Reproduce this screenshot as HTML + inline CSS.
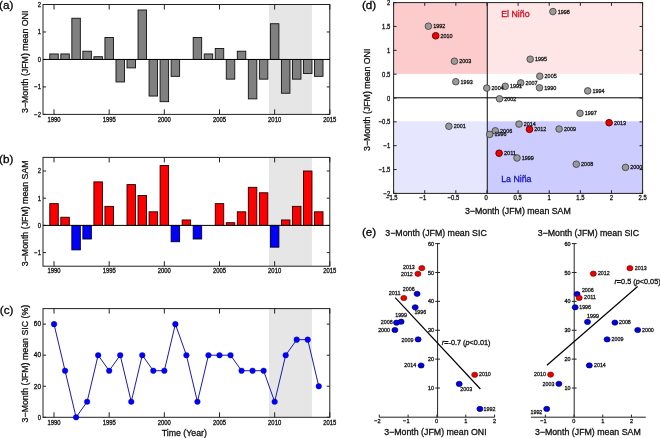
<!DOCTYPE html>
<html><head><meta charset="utf-8"><style>
html,body{margin:0;padding:0;background:#fff;}
svg{display:block;font-family:"Liberation Sans", sans-serif;will-change:transform;}
</style></head><body>
<svg width="660" height="438" viewBox="0 0 660 438">
<rect width="660" height="438" fill="#fff"/>
<rect x="269.00" y="4.50" width="42.90" height="109.90" fill="#e6e6e6" stroke="none" stroke-width="0"/>
<rect x="43.0" y="4.5" width="286.80" height="109.90" fill="none" stroke="#222" stroke-width="1"/>
<line x1="54.03" y1="114.40" x2="54.03" y2="109.40" stroke="#222" stroke-width="1" />
<line x1="54.03" y1="4.50" x2="54.03" y2="9.50" stroke="#222" stroke-width="1" />
<text x="54.03" y="121.70" font-size="6.4" text-anchor="middle" fill="#111" stroke="#111" stroke-width="0.3" textLength="13.09" lengthAdjust="spacingAndGlyphs">1990</text>
<line x1="109.18" y1="114.40" x2="109.18" y2="109.40" stroke="#222" stroke-width="1" />
<line x1="109.18" y1="4.50" x2="109.18" y2="9.50" stroke="#222" stroke-width="1" />
<text x="109.18" y="121.70" font-size="6.4" text-anchor="middle" fill="#111" stroke="#111" stroke-width="0.3" textLength="13.09" lengthAdjust="spacingAndGlyphs">1995</text>
<line x1="164.34" y1="114.40" x2="164.34" y2="109.40" stroke="#222" stroke-width="1" />
<line x1="164.34" y1="4.50" x2="164.34" y2="9.50" stroke="#222" stroke-width="1" />
<text x="164.34" y="121.70" font-size="6.4" text-anchor="middle" fill="#111" stroke="#111" stroke-width="0.3" textLength="13.09" lengthAdjust="spacingAndGlyphs">2000</text>
<line x1="219.49" y1="114.40" x2="219.49" y2="109.40" stroke="#222" stroke-width="1" />
<line x1="219.49" y1="4.50" x2="219.49" y2="9.50" stroke="#222" stroke-width="1" />
<text x="219.49" y="121.70" font-size="6.4" text-anchor="middle" fill="#111" stroke="#111" stroke-width="0.3" textLength="13.09" lengthAdjust="spacingAndGlyphs">2005</text>
<line x1="274.65" y1="114.40" x2="274.65" y2="109.40" stroke="#222" stroke-width="1" />
<line x1="274.65" y1="4.50" x2="274.65" y2="9.50" stroke="#222" stroke-width="1" />
<text x="274.65" y="121.70" font-size="6.4" text-anchor="middle" fill="#111" stroke="#111" stroke-width="0.3" textLength="13.09" lengthAdjust="spacingAndGlyphs">2010</text>
<line x1="329.80" y1="114.40" x2="329.80" y2="109.40" stroke="#222" stroke-width="1" />
<line x1="329.80" y1="4.50" x2="329.80" y2="9.50" stroke="#222" stroke-width="1" />
<text x="329.80" y="121.70" font-size="6.4" text-anchor="middle" fill="#111" stroke="#111" stroke-width="0.3" textLength="13.09" lengthAdjust="spacingAndGlyphs">2015</text>
<line x1="43.00" y1="114.40" x2="46.00" y2="114.40" stroke="#222" stroke-width="1" />
<line x1="329.80" y1="114.40" x2="326.80" y2="114.40" stroke="#222" stroke-width="1" />
<text x="41.00" y="116.70" font-size="6.4" text-anchor="end" fill="#111" stroke="#111" stroke-width="0.3" textLength="6.71" lengthAdjust="spacingAndGlyphs">−2</text>
<line x1="43.00" y1="86.93" x2="46.00" y2="86.93" stroke="#222" stroke-width="1" />
<line x1="329.80" y1="86.93" x2="326.80" y2="86.93" stroke="#222" stroke-width="1" />
<text x="41.00" y="89.23" font-size="6.4" text-anchor="end" fill="#111" stroke="#111" stroke-width="0.3" textLength="6.71" lengthAdjust="spacingAndGlyphs">−1</text>
<line x1="43.00" y1="59.45" x2="46.00" y2="59.45" stroke="#222" stroke-width="1" />
<line x1="329.80" y1="59.45" x2="326.80" y2="59.45" stroke="#222" stroke-width="1" />
<text x="41.00" y="61.75" font-size="6.4" text-anchor="end" fill="#111" stroke="#111" stroke-width="0.3" textLength="3.27" lengthAdjust="spacingAndGlyphs">0</text>
<line x1="43.00" y1="31.97" x2="46.00" y2="31.97" stroke="#222" stroke-width="1" />
<line x1="329.80" y1="31.97" x2="326.80" y2="31.97" stroke="#222" stroke-width="1" />
<text x="41.00" y="34.27" font-size="6.4" text-anchor="end" fill="#111" stroke="#111" stroke-width="0.3" textLength="3.27" lengthAdjust="spacingAndGlyphs">1</text>
<line x1="43.00" y1="4.50" x2="46.00" y2="4.50" stroke="#222" stroke-width="1" />
<line x1="329.80" y1="4.50" x2="326.80" y2="4.50" stroke="#222" stroke-width="1" />
<text x="41.00" y="6.80" font-size="6.4" text-anchor="end" fill="#111" stroke="#111" stroke-width="0.3" textLength="3.27" lengthAdjust="spacingAndGlyphs">2</text>
<text x="0" y="0" font-size="8.8" text-anchor="middle" fill="#111" stroke="#111" stroke-width="0.3" transform="translate(28.2,61.80) rotate(-90)">3−Month (JFM) mean ONI</text>
<rect x="49.78" y="53.95" width="8.5" height="5.50" fill="#808080" stroke="#111" stroke-width="0.9"/>
<rect x="60.81" y="53.95" width="8.5" height="5.50" fill="#808080" stroke="#111" stroke-width="0.9"/>
<rect x="71.84" y="18.24" width="8.5" height="41.21" fill="#808080" stroke="#111" stroke-width="0.9"/>
<rect x="82.87" y="51.21" width="8.5" height="8.24" fill="#808080" stroke="#111" stroke-width="0.9"/>
<rect x="93.90" y="56.70" width="8.5" height="2.75" fill="#808080" stroke="#111" stroke-width="0.9"/>
<rect x="104.93" y="37.47" width="8.5" height="21.98" fill="#808080" stroke="#111" stroke-width="0.9"/>
<rect x="115.97" y="59.45" width="8.5" height="22.53" fill="#808080" stroke="#111" stroke-width="0.9"/>
<rect x="127.00" y="59.45" width="8.5" height="8.45" fill="#808080" stroke="#111" stroke-width="0.9"/>
<rect x="138.03" y="10.00" width="8.5" height="49.45" fill="#808080" stroke="#111" stroke-width="0.9"/>
<rect x="149.06" y="59.45" width="8.5" height="36.61" fill="#808080" stroke="#111" stroke-width="0.9"/>
<rect x="160.09" y="59.45" width="8.5" height="42.24" fill="#808080" stroke="#111" stroke-width="0.9"/>
<rect x="171.12" y="59.45" width="8.5" height="16.90" fill="#808080" stroke="#111" stroke-width="0.9"/>
<rect x="193.18" y="37.47" width="8.5" height="21.98" fill="#808080" stroke="#111" stroke-width="0.9"/>
<rect x="204.21" y="53.95" width="8.5" height="5.50" fill="#808080" stroke="#111" stroke-width="0.9"/>
<rect x="215.24" y="48.46" width="8.5" height="10.99" fill="#808080" stroke="#111" stroke-width="0.9"/>
<rect x="226.27" y="59.45" width="8.5" height="19.71" fill="#808080" stroke="#111" stroke-width="0.9"/>
<rect x="237.30" y="51.21" width="8.5" height="8.24" fill="#808080" stroke="#111" stroke-width="0.9"/>
<rect x="248.33" y="59.45" width="8.5" height="39.43" fill="#808080" stroke="#111" stroke-width="0.9"/>
<rect x="259.37" y="59.45" width="8.5" height="19.71" fill="#808080" stroke="#111" stroke-width="0.9"/>
<rect x="270.40" y="23.73" width="8.5" height="35.72" fill="#808080" stroke="#111" stroke-width="0.9"/>
<rect x="281.43" y="59.45" width="8.5" height="33.79" fill="#808080" stroke="#111" stroke-width="0.9"/>
<rect x="292.46" y="59.45" width="8.5" height="19.71" fill="#808080" stroke="#111" stroke-width="0.9"/>
<rect x="303.49" y="59.45" width="8.5" height="14.08" fill="#808080" stroke="#111" stroke-width="0.9"/>
<rect x="314.52" y="59.45" width="8.5" height="16.90" fill="#808080" stroke="#111" stroke-width="0.9"/>
<line x1="43.00" y1="59.45" x2="329.80" y2="59.45" stroke="#000" stroke-width="1" />
<text x="-1.00" y="8.60" font-size="11.7" text-anchor="start" fill="#000" stroke="#000" stroke-width="0.3" >(a)</text>
<rect x="269.00" y="157.40" width="42.90" height="108.80" fill="#e6e6e6" stroke="none" stroke-width="0"/>
<rect x="43.0" y="157.4" width="286.80" height="108.80" fill="none" stroke="#222" stroke-width="1"/>
<line x1="54.03" y1="266.20" x2="54.03" y2="261.20" stroke="#222" stroke-width="1" />
<line x1="54.03" y1="157.40" x2="54.03" y2="162.40" stroke="#222" stroke-width="1" />
<text x="54.03" y="273.30" font-size="6.4" text-anchor="middle" fill="#111" stroke="#111" stroke-width="0.3" textLength="13.09" lengthAdjust="spacingAndGlyphs">1990</text>
<line x1="109.18" y1="266.20" x2="109.18" y2="261.20" stroke="#222" stroke-width="1" />
<line x1="109.18" y1="157.40" x2="109.18" y2="162.40" stroke="#222" stroke-width="1" />
<text x="109.18" y="273.30" font-size="6.4" text-anchor="middle" fill="#111" stroke="#111" stroke-width="0.3" textLength="13.09" lengthAdjust="spacingAndGlyphs">1995</text>
<line x1="164.34" y1="266.20" x2="164.34" y2="261.20" stroke="#222" stroke-width="1" />
<line x1="164.34" y1="157.40" x2="164.34" y2="162.40" stroke="#222" stroke-width="1" />
<text x="164.34" y="273.30" font-size="6.4" text-anchor="middle" fill="#111" stroke="#111" stroke-width="0.3" textLength="13.09" lengthAdjust="spacingAndGlyphs">2000</text>
<line x1="219.49" y1="266.20" x2="219.49" y2="261.20" stroke="#222" stroke-width="1" />
<line x1="219.49" y1="157.40" x2="219.49" y2="162.40" stroke="#222" stroke-width="1" />
<text x="219.49" y="273.30" font-size="6.4" text-anchor="middle" fill="#111" stroke="#111" stroke-width="0.3" textLength="13.09" lengthAdjust="spacingAndGlyphs">2005</text>
<line x1="274.65" y1="266.20" x2="274.65" y2="261.20" stroke="#222" stroke-width="1" />
<line x1="274.65" y1="157.40" x2="274.65" y2="162.40" stroke="#222" stroke-width="1" />
<text x="274.65" y="273.30" font-size="6.4" text-anchor="middle" fill="#111" stroke="#111" stroke-width="0.3" textLength="13.09" lengthAdjust="spacingAndGlyphs">2010</text>
<line x1="329.80" y1="266.20" x2="329.80" y2="261.20" stroke="#222" stroke-width="1" />
<line x1="329.80" y1="157.40" x2="329.80" y2="162.40" stroke="#222" stroke-width="1" />
<text x="329.80" y="273.30" font-size="6.4" text-anchor="middle" fill="#111" stroke="#111" stroke-width="0.3" textLength="13.09" lengthAdjust="spacingAndGlyphs">2015</text>
<line x1="43.00" y1="252.60" x2="46.00" y2="252.60" stroke="#222" stroke-width="1" />
<line x1="329.80" y1="252.60" x2="326.80" y2="252.60" stroke="#222" stroke-width="1" />
<text x="41.00" y="254.90" font-size="6.4" text-anchor="end" fill="#111" stroke="#111" stroke-width="0.3" textLength="6.71" lengthAdjust="spacingAndGlyphs">−1</text>
<line x1="43.00" y1="225.40" x2="46.00" y2="225.40" stroke="#222" stroke-width="1" />
<line x1="329.80" y1="225.40" x2="326.80" y2="225.40" stroke="#222" stroke-width="1" />
<text x="41.00" y="227.70" font-size="6.4" text-anchor="end" fill="#111" stroke="#111" stroke-width="0.3" textLength="3.27" lengthAdjust="spacingAndGlyphs">0</text>
<line x1="43.00" y1="198.20" x2="46.00" y2="198.20" stroke="#222" stroke-width="1" />
<line x1="329.80" y1="198.20" x2="326.80" y2="198.20" stroke="#222" stroke-width="1" />
<text x="41.00" y="200.50" font-size="6.4" text-anchor="end" fill="#111" stroke="#111" stroke-width="0.3" textLength="3.27" lengthAdjust="spacingAndGlyphs">1</text>
<line x1="43.00" y1="171.00" x2="46.00" y2="171.00" stroke="#222" stroke-width="1" />
<line x1="329.80" y1="171.00" x2="326.80" y2="171.00" stroke="#222" stroke-width="1" />
<text x="41.00" y="173.30" font-size="6.4" text-anchor="end" fill="#111" stroke="#111" stroke-width="0.3" textLength="3.27" lengthAdjust="spacingAndGlyphs">2</text>
<text x="0" y="0" font-size="8.8" text-anchor="middle" fill="#111" stroke="#111" stroke-width="0.3" transform="translate(28.2,213.30) rotate(-90)">3−Month (JFM) mean SAM</text>
<rect x="49.78" y="203.64" width="8.5" height="21.76" fill="#ff0000" stroke="#200" stroke-width="0.9"/>
<rect x="60.81" y="217.24" width="8.5" height="8.16" fill="#ff0000" stroke="#200" stroke-width="0.9"/>
<rect x="71.84" y="225.40" width="8.5" height="24.48" fill="#0000ff" stroke="#002" stroke-width="0.9"/>
<rect x="82.87" y="225.40" width="8.5" height="13.60" fill="#0000ff" stroke="#002" stroke-width="0.9"/>
<rect x="93.90" y="181.88" width="8.5" height="43.52" fill="#ff0000" stroke="#200" stroke-width="0.9"/>
<rect x="104.93" y="206.36" width="8.5" height="19.04" fill="#ff0000" stroke="#200" stroke-width="0.9"/>
<rect x="127.00" y="184.60" width="8.5" height="40.80" fill="#ff0000" stroke="#200" stroke-width="0.9"/>
<rect x="138.03" y="195.48" width="8.5" height="29.92" fill="#ff0000" stroke="#200" stroke-width="0.9"/>
<rect x="149.06" y="211.80" width="8.5" height="13.60" fill="#ff0000" stroke="#200" stroke-width="0.9"/>
<rect x="160.09" y="165.56" width="8.5" height="59.84" fill="#ff0000" stroke="#200" stroke-width="0.9"/>
<rect x="171.12" y="225.40" width="8.5" height="16.32" fill="#0000ff" stroke="#002" stroke-width="0.9"/>
<rect x="182.15" y="219.96" width="8.5" height="5.44" fill="#ff0000" stroke="#200" stroke-width="0.9"/>
<rect x="193.18" y="225.40" width="8.5" height="13.60" fill="#0000ff" stroke="#002" stroke-width="0.9"/>
<rect x="215.24" y="203.64" width="8.5" height="21.76" fill="#ff0000" stroke="#200" stroke-width="0.9"/>
<rect x="226.27" y="222.68" width="8.5" height="2.72" fill="#ff0000" stroke="#200" stroke-width="0.9"/>
<rect x="237.30" y="211.80" width="8.5" height="13.60" fill="#ff0000" stroke="#200" stroke-width="0.9"/>
<rect x="248.33" y="187.32" width="8.5" height="38.08" fill="#ff0000" stroke="#200" stroke-width="0.9"/>
<rect x="259.37" y="192.76" width="8.5" height="32.64" fill="#ff0000" stroke="#200" stroke-width="0.9"/>
<rect x="270.40" y="225.40" width="8.5" height="21.76" fill="#0000ff" stroke="#002" stroke-width="0.9"/>
<rect x="281.43" y="219.96" width="8.5" height="5.44" fill="#ff0000" stroke="#200" stroke-width="0.9"/>
<rect x="292.46" y="206.36" width="8.5" height="19.04" fill="#ff0000" stroke="#200" stroke-width="0.9"/>
<rect x="303.49" y="171.00" width="8.5" height="54.40" fill="#ff0000" stroke="#200" stroke-width="0.9"/>
<rect x="314.52" y="211.80" width="8.5" height="13.60" fill="#ff0000" stroke="#200" stroke-width="0.9"/>
<line x1="43.00" y1="225.40" x2="329.80" y2="225.40" stroke="#000" stroke-width="1" />
<text x="-1.00" y="162.70" font-size="11.7" text-anchor="start" fill="#000" stroke="#000" stroke-width="0.3" >(b)</text>
<rect x="269.00" y="308.60" width="42.90" height="108.70" fill="#e6e6e6" stroke="none" stroke-width="0"/>
<rect x="43.0" y="308.6" width="286.80" height="108.70" fill="none" stroke="#222" stroke-width="1"/>
<line x1="54.03" y1="417.30" x2="54.03" y2="412.30" stroke="#222" stroke-width="1" />
<line x1="54.03" y1="308.60" x2="54.03" y2="313.60" stroke="#222" stroke-width="1" />
<text x="54.03" y="424.80" font-size="6.4" text-anchor="middle" fill="#111" stroke="#111" stroke-width="0.3" textLength="13.09" lengthAdjust="spacingAndGlyphs">1990</text>
<line x1="109.18" y1="417.30" x2="109.18" y2="412.30" stroke="#222" stroke-width="1" />
<line x1="109.18" y1="308.60" x2="109.18" y2="313.60" stroke="#222" stroke-width="1" />
<text x="109.18" y="424.80" font-size="6.4" text-anchor="middle" fill="#111" stroke="#111" stroke-width="0.3" textLength="13.09" lengthAdjust="spacingAndGlyphs">1995</text>
<line x1="164.34" y1="417.30" x2="164.34" y2="412.30" stroke="#222" stroke-width="1" />
<line x1="164.34" y1="308.60" x2="164.34" y2="313.60" stroke="#222" stroke-width="1" />
<text x="164.34" y="424.80" font-size="6.4" text-anchor="middle" fill="#111" stroke="#111" stroke-width="0.3" textLength="13.09" lengthAdjust="spacingAndGlyphs">2000</text>
<line x1="219.49" y1="417.30" x2="219.49" y2="412.30" stroke="#222" stroke-width="1" />
<line x1="219.49" y1="308.60" x2="219.49" y2="313.60" stroke="#222" stroke-width="1" />
<text x="219.49" y="424.80" font-size="6.4" text-anchor="middle" fill="#111" stroke="#111" stroke-width="0.3" textLength="13.09" lengthAdjust="spacingAndGlyphs">2005</text>
<line x1="274.65" y1="417.30" x2="274.65" y2="412.30" stroke="#222" stroke-width="1" />
<line x1="274.65" y1="308.60" x2="274.65" y2="313.60" stroke="#222" stroke-width="1" />
<text x="274.65" y="424.80" font-size="6.4" text-anchor="middle" fill="#111" stroke="#111" stroke-width="0.3" textLength="13.09" lengthAdjust="spacingAndGlyphs">2010</text>
<line x1="329.80" y1="417.30" x2="329.80" y2="412.30" stroke="#222" stroke-width="1" />
<line x1="329.80" y1="308.60" x2="329.80" y2="313.60" stroke="#222" stroke-width="1" />
<text x="329.80" y="424.80" font-size="6.4" text-anchor="middle" fill="#111" stroke="#111" stroke-width="0.3" textLength="13.09" lengthAdjust="spacingAndGlyphs">2015</text>
<line x1="43.00" y1="417.30" x2="46.00" y2="417.30" stroke="#222" stroke-width="1" />
<line x1="329.80" y1="417.30" x2="326.80" y2="417.30" stroke="#222" stroke-width="1" />
<text x="41.00" y="419.60" font-size="6.4" text-anchor="end" fill="#111" stroke="#111" stroke-width="0.3" textLength="3.27" lengthAdjust="spacingAndGlyphs">0</text>
<line x1="43.00" y1="386.24" x2="46.00" y2="386.24" stroke="#222" stroke-width="1" />
<line x1="329.80" y1="386.24" x2="326.80" y2="386.24" stroke="#222" stroke-width="1" />
<text x="41.00" y="388.54" font-size="6.4" text-anchor="end" fill="#111" stroke="#111" stroke-width="0.3" textLength="7.12" lengthAdjust="spacingAndGlyphs">20</text>
<line x1="43.00" y1="355.19" x2="46.00" y2="355.19" stroke="#222" stroke-width="1" />
<line x1="329.80" y1="355.19" x2="326.80" y2="355.19" stroke="#222" stroke-width="1" />
<text x="41.00" y="357.49" font-size="6.4" text-anchor="end" fill="#111" stroke="#111" stroke-width="0.3" textLength="7.12" lengthAdjust="spacingAndGlyphs">40</text>
<line x1="43.00" y1="324.13" x2="46.00" y2="324.13" stroke="#222" stroke-width="1" />
<line x1="329.80" y1="324.13" x2="326.80" y2="324.13" stroke="#222" stroke-width="1" />
<text x="41.00" y="326.43" font-size="6.4" text-anchor="end" fill="#111" stroke="#111" stroke-width="0.3" textLength="7.12" lengthAdjust="spacingAndGlyphs">60</text>
<text x="0" y="0" font-size="8.8" text-anchor="middle" fill="#111" stroke="#111" stroke-width="0.3" transform="translate(28.2,363.60) rotate(-90)">3−Month (JFM) mean SIC (%)</text>
<polyline points="54.03,324.13 65.06,370.71 76.09,417.30 87.12,401.77 98.15,355.19 109.18,370.71 120.22,355.19 131.25,401.77 142.28,355.19 153.31,370.71 164.34,370.71 175.37,324.13 186.40,355.19 197.43,401.77 208.46,355.19 219.49,355.19 230.52,355.19 241.55,370.71 252.58,370.71 263.62,370.71 274.65,401.77 285.68,355.19 296.71,339.66 307.74,339.66 318.77,386.24" fill="none" stroke="#1a1ab0" stroke-width="1"/>
<circle cx="54.03" cy="324.13" r="2.8" fill="#0000ff" stroke="#0000b0" stroke-width="0.4"/>
<circle cx="65.06" cy="370.71" r="2.8" fill="#0000ff" stroke="#0000b0" stroke-width="0.4"/>
<circle cx="76.09" cy="417.30" r="2.8" fill="#0000ff" stroke="#0000b0" stroke-width="0.4"/>
<circle cx="87.12" cy="401.77" r="2.8" fill="#0000ff" stroke="#0000b0" stroke-width="0.4"/>
<circle cx="98.15" cy="355.19" r="2.8" fill="#0000ff" stroke="#0000b0" stroke-width="0.4"/>
<circle cx="109.18" cy="370.71" r="2.8" fill="#0000ff" stroke="#0000b0" stroke-width="0.4"/>
<circle cx="120.22" cy="355.19" r="2.8" fill="#0000ff" stroke="#0000b0" stroke-width="0.4"/>
<circle cx="131.25" cy="401.77" r="2.8" fill="#0000ff" stroke="#0000b0" stroke-width="0.4"/>
<circle cx="142.28" cy="355.19" r="2.8" fill="#0000ff" stroke="#0000b0" stroke-width="0.4"/>
<circle cx="153.31" cy="370.71" r="2.8" fill="#0000ff" stroke="#0000b0" stroke-width="0.4"/>
<circle cx="164.34" cy="370.71" r="2.8" fill="#0000ff" stroke="#0000b0" stroke-width="0.4"/>
<circle cx="175.37" cy="324.13" r="2.8" fill="#0000ff" stroke="#0000b0" stroke-width="0.4"/>
<circle cx="186.40" cy="355.19" r="2.8" fill="#0000ff" stroke="#0000b0" stroke-width="0.4"/>
<circle cx="197.43" cy="401.77" r="2.8" fill="#0000ff" stroke="#0000b0" stroke-width="0.4"/>
<circle cx="208.46" cy="355.19" r="2.8" fill="#0000ff" stroke="#0000b0" stroke-width="0.4"/>
<circle cx="219.49" cy="355.19" r="2.8" fill="#0000ff" stroke="#0000b0" stroke-width="0.4"/>
<circle cx="230.52" cy="355.19" r="2.8" fill="#0000ff" stroke="#0000b0" stroke-width="0.4"/>
<circle cx="241.55" cy="370.71" r="2.8" fill="#0000ff" stroke="#0000b0" stroke-width="0.4"/>
<circle cx="252.58" cy="370.71" r="2.8" fill="#0000ff" stroke="#0000b0" stroke-width="0.4"/>
<circle cx="263.62" cy="370.71" r="2.8" fill="#0000ff" stroke="#0000b0" stroke-width="0.4"/>
<circle cx="274.65" cy="401.77" r="2.8" fill="#0000ff" stroke="#0000b0" stroke-width="0.4"/>
<circle cx="285.68" cy="355.19" r="2.8" fill="#0000ff" stroke="#0000b0" stroke-width="0.4"/>
<circle cx="296.71" cy="339.66" r="2.8" fill="#0000ff" stroke="#0000b0" stroke-width="0.4"/>
<circle cx="307.74" cy="339.66" r="2.8" fill="#0000ff" stroke="#0000b0" stroke-width="0.4"/>
<circle cx="318.77" cy="386.24" r="2.8" fill="#0000ff" stroke="#0000b0" stroke-width="0.4"/>
<text x="-0.20" y="313.80" font-size="11.7" text-anchor="start" fill="#000" stroke="#000" stroke-width="0.3" >(c)</text>
<text x="184.30" y="436.30" font-size="8.8" text-anchor="middle" fill="#111" stroke="#111" stroke-width="0.3" >Time (Year)</text>
<rect x="393.60" y="2.60" width="93.70" height="71.30" fill="#fccccc" stroke="none" stroke-width="0"/>
<rect x="487.30" y="2.60" width="155.30" height="71.30" fill="#ffe6e6" stroke="none" stroke-width="0"/>
<rect x="393.60" y="121.30" width="93.70" height="72.10" fill="#e6e6ff" stroke="none" stroke-width="0"/>
<rect x="487.30" y="121.30" width="155.30" height="72.10" fill="#ccccff" stroke="none" stroke-width="0"/>
<line x1="487.30" y1="2.60" x2="487.30" y2="193.40" stroke="#222" stroke-width="1.1" />
<line x1="393.60" y1="97.80" x2="642.60" y2="97.80" stroke="#000" stroke-width="1" />
<rect x="393.6" y="2.6" width="249.00" height="190.80" fill="none" stroke="#222" stroke-width="1"/>
<line x1="393.60" y1="193.40" x2="393.60" y2="190.20" stroke="#222" stroke-width="1" />
<line x1="393.60" y1="2.60" x2="393.60" y2="5.80" stroke="#222" stroke-width="1" />
<text x="391.80" y="200.20" font-size="6.4" text-anchor="middle" fill="#111" stroke="#111" stroke-width="0.3" textLength="11.62" lengthAdjust="spacingAndGlyphs">−1.5</text>
<line x1="424.73" y1="193.40" x2="424.73" y2="190.20" stroke="#222" stroke-width="1" />
<line x1="424.73" y1="2.60" x2="424.73" y2="5.80" stroke="#222" stroke-width="1" />
<text x="422.93" y="200.20" font-size="6.4" text-anchor="middle" fill="#111" stroke="#111" stroke-width="0.3" textLength="6.71" lengthAdjust="spacingAndGlyphs">−1</text>
<line x1="455.85" y1="193.40" x2="455.85" y2="190.20" stroke="#222" stroke-width="1" />
<line x1="455.85" y1="2.60" x2="455.85" y2="5.80" stroke="#222" stroke-width="1" />
<text x="453.45" y="200.20" font-size="6.4" text-anchor="middle" fill="#111" stroke="#111" stroke-width="0.3" textLength="11.62" lengthAdjust="spacingAndGlyphs">−0.5</text>
<line x1="486.98" y1="193.40" x2="486.98" y2="190.20" stroke="#222" stroke-width="1" />
<line x1="486.98" y1="2.60" x2="486.98" y2="5.80" stroke="#222" stroke-width="1" />
<text x="486.18" y="200.20" font-size="6.4" text-anchor="middle" fill="#111" stroke="#111" stroke-width="0.3" textLength="3.27" lengthAdjust="spacingAndGlyphs">0</text>
<line x1="518.10" y1="193.40" x2="518.10" y2="190.20" stroke="#222" stroke-width="1" />
<line x1="518.10" y1="2.60" x2="518.10" y2="5.80" stroke="#222" stroke-width="1" />
<text x="517.60" y="200.20" font-size="6.4" text-anchor="middle" fill="#111" stroke="#111" stroke-width="0.3" textLength="8.18" lengthAdjust="spacingAndGlyphs">0.5</text>
<line x1="549.23" y1="193.40" x2="549.23" y2="190.20" stroke="#222" stroke-width="1" />
<line x1="549.23" y1="2.60" x2="549.23" y2="5.80" stroke="#222" stroke-width="1" />
<text x="549.23" y="200.20" font-size="6.4" text-anchor="middle" fill="#111" stroke="#111" stroke-width="0.3" textLength="3.27" lengthAdjust="spacingAndGlyphs">1</text>
<line x1="580.35" y1="193.40" x2="580.35" y2="190.20" stroke="#222" stroke-width="1" />
<line x1="580.35" y1="2.60" x2="580.35" y2="5.80" stroke="#222" stroke-width="1" />
<text x="580.35" y="200.20" font-size="6.4" text-anchor="middle" fill="#111" stroke="#111" stroke-width="0.3" textLength="8.18" lengthAdjust="spacingAndGlyphs">1.5</text>
<line x1="611.48" y1="193.40" x2="611.48" y2="190.20" stroke="#222" stroke-width="1" />
<line x1="611.48" y1="2.60" x2="611.48" y2="5.80" stroke="#222" stroke-width="1" />
<text x="611.48" y="200.20" font-size="6.4" text-anchor="middle" fill="#111" stroke="#111" stroke-width="0.3" textLength="3.27" lengthAdjust="spacingAndGlyphs">2</text>
<line x1="642.60" y1="193.40" x2="642.60" y2="190.20" stroke="#222" stroke-width="1" />
<line x1="642.60" y1="2.60" x2="642.60" y2="5.80" stroke="#222" stroke-width="1" />
<text x="642.60" y="200.20" font-size="6.4" text-anchor="middle" fill="#111" stroke="#111" stroke-width="0.3" textLength="8.18" lengthAdjust="spacingAndGlyphs">2.5</text>
<line x1="393.60" y1="193.40" x2="396.60" y2="193.40" stroke="#222" stroke-width="1" />
<line x1="642.60" y1="193.40" x2="639.60" y2="193.40" stroke="#222" stroke-width="1" />
<text x="390.30" y="195.90" font-size="6.4" text-anchor="end" fill="#111" stroke="#111" stroke-width="0.3" textLength="6.71" lengthAdjust="spacingAndGlyphs">−2</text>
<line x1="393.60" y1="169.55" x2="396.60" y2="169.55" stroke="#222" stroke-width="1" />
<line x1="642.60" y1="169.55" x2="639.60" y2="169.55" stroke="#222" stroke-width="1" />
<text x="390.30" y="172.05" font-size="6.4" text-anchor="end" fill="#111" stroke="#111" stroke-width="0.3" textLength="11.62" lengthAdjust="spacingAndGlyphs">−1.5</text>
<line x1="393.60" y1="145.70" x2="396.60" y2="145.70" stroke="#222" stroke-width="1" />
<line x1="642.60" y1="145.70" x2="639.60" y2="145.70" stroke="#222" stroke-width="1" />
<text x="390.30" y="148.20" font-size="6.4" text-anchor="end" fill="#111" stroke="#111" stroke-width="0.3" textLength="6.71" lengthAdjust="spacingAndGlyphs">−1</text>
<line x1="393.60" y1="121.85" x2="396.60" y2="121.85" stroke="#222" stroke-width="1" />
<line x1="642.60" y1="121.85" x2="639.60" y2="121.85" stroke="#222" stroke-width="1" />
<text x="390.30" y="124.35" font-size="6.4" text-anchor="end" fill="#111" stroke="#111" stroke-width="0.3" textLength="11.62" lengthAdjust="spacingAndGlyphs">−0.5</text>
<line x1="393.60" y1="98.00" x2="396.60" y2="98.00" stroke="#222" stroke-width="1" />
<line x1="642.60" y1="98.00" x2="639.60" y2="98.00" stroke="#222" stroke-width="1" />
<text x="390.30" y="100.50" font-size="6.4" text-anchor="end" fill="#111" stroke="#111" stroke-width="0.3" textLength="3.27" lengthAdjust="spacingAndGlyphs">0</text>
<line x1="393.60" y1="74.15" x2="396.60" y2="74.15" stroke="#222" stroke-width="1" />
<line x1="642.60" y1="74.15" x2="639.60" y2="74.15" stroke="#222" stroke-width="1" />
<text x="390.30" y="76.65" font-size="6.4" text-anchor="end" fill="#111" stroke="#111" stroke-width="0.3" textLength="8.18" lengthAdjust="spacingAndGlyphs">0.5</text>
<line x1="393.60" y1="50.30" x2="396.60" y2="50.30" stroke="#222" stroke-width="1" />
<line x1="642.60" y1="50.30" x2="639.60" y2="50.30" stroke="#222" stroke-width="1" />
<text x="390.30" y="52.80" font-size="6.4" text-anchor="end" fill="#111" stroke="#111" stroke-width="0.3" textLength="3.27" lengthAdjust="spacingAndGlyphs">1</text>
<line x1="393.60" y1="26.45" x2="396.60" y2="26.45" stroke="#222" stroke-width="1" />
<line x1="642.60" y1="26.45" x2="639.60" y2="26.45" stroke="#222" stroke-width="1" />
<text x="390.30" y="28.95" font-size="6.4" text-anchor="end" fill="#111" stroke="#111" stroke-width="0.3" textLength="8.18" lengthAdjust="spacingAndGlyphs">1.5</text>
<line x1="393.60" y1="2.60" x2="396.60" y2="2.60" stroke="#222" stroke-width="1" />
<line x1="642.60" y1="2.60" x2="639.60" y2="2.60" stroke="#222" stroke-width="1" />
<text x="390.30" y="5.10" font-size="6.4" text-anchor="end" fill="#111" stroke="#111" stroke-width="0.3" textLength="3.27" lengthAdjust="spacingAndGlyphs">2</text>
<text x="517.90" y="214.30" font-size="8.8" text-anchor="middle" fill="#111" stroke="#111" stroke-width="0.3" >3−Month (JFM) mean SAM</text>
<text x="0" y="0" font-size="8.8" text-anchor="middle" fill="#111" stroke="#111" stroke-width="0.3" transform="translate(369.8,99.8) rotate(-90)">3−Month (JFM) mean ONI</text>
<text x="501.20" y="17.30" font-size="8.8" text-anchor="start" fill="#c81020" stroke="#c81020" stroke-width="0.3" >El Niño</text>
<text x="501.20" y="181.50" font-size="8.8" text-anchor="start" fill="#1818c0" stroke="#1818c0" stroke-width="0.3" >La Niña</text>
<text x="361.90" y="8.70" font-size="11.7" text-anchor="start" fill="#000" stroke="#000" stroke-width="0.3" >(d)</text>
<circle cx="428.4" cy="26.2" r="3.3" fill="#9a9a9a" stroke="#3a3a3a" stroke-width="0.8"/>
<circle cx="435.7" cy="35.8" r="3.3" fill="#ee0000" stroke="#700000" stroke-width="1"/>
<circle cx="454.4" cy="61.2" r="3.3" fill="#9a9a9a" stroke="#3a3a3a" stroke-width="0.8"/>
<circle cx="455.8" cy="81.7" r="3.3" fill="#9a9a9a" stroke="#3a3a3a" stroke-width="0.8"/>
<circle cx="486.8" cy="88.1" r="3.3" fill="#9a9a9a" stroke="#3a3a3a" stroke-width="0.8"/>
<circle cx="505.2" cy="86.3" r="3.3" fill="#9a9a9a" stroke="#3a3a3a" stroke-width="0.8"/>
<circle cx="499.5" cy="98.8" r="3.3" fill="#9a9a9a" stroke="#3a3a3a" stroke-width="0.8"/>
<circle cx="552.9" cy="11.6" r="3.3" fill="#9a9a9a" stroke="#3a3a3a" stroke-width="0.8"/>
<circle cx="530.2" cy="59.2" r="3.3" fill="#9a9a9a" stroke="#3a3a3a" stroke-width="0.8"/>
<circle cx="539.8" cy="76.2" r="3.3" fill="#9a9a9a" stroke="#3a3a3a" stroke-width="0.8"/>
<circle cx="520.7" cy="82.9" r="3.3" fill="#9a9a9a" stroke="#3a3a3a" stroke-width="0.8"/>
<circle cx="539.5" cy="87.8" r="3.3" fill="#9a9a9a" stroke="#3a3a3a" stroke-width="0.8"/>
<circle cx="587.7" cy="90.9" r="3.3" fill="#9a9a9a" stroke="#3a3a3a" stroke-width="0.8"/>
<circle cx="448.9" cy="126.3" r="3.3" fill="#9a9a9a" stroke="#3a3a3a" stroke-width="0.8"/>
<circle cx="495.3" cy="130.8" r="3.3" fill="#9a9a9a" stroke="#3a3a3a" stroke-width="0.8"/>
<circle cx="489.7" cy="134.4" r="3.3" fill="#9a9a9a" stroke="#3a3a3a" stroke-width="0.8"/>
<circle cx="499.1" cy="153.2" r="3.3" fill="#ee0000" stroke="#700000" stroke-width="1"/>
<circle cx="517.0" cy="158.0" r="3.3" fill="#9a9a9a" stroke="#3a3a3a" stroke-width="0.8"/>
<circle cx="519.0" cy="124.1" r="3.3" fill="#9a9a9a" stroke="#3a3a3a" stroke-width="0.8"/>
<circle cx="529.5" cy="129.3" r="3.3" fill="#ee0000" stroke="#700000" stroke-width="1"/>
<circle cx="559.1" cy="129.0" r="3.3" fill="#9a9a9a" stroke="#3a3a3a" stroke-width="0.8"/>
<circle cx="580.0" cy="113.3" r="3.3" fill="#9a9a9a" stroke="#3a3a3a" stroke-width="0.8"/>
<circle cx="609.1" cy="122.7" r="3.3" fill="#ee0000" stroke="#700000" stroke-width="1"/>
<circle cx="576.3" cy="164.2" r="3.3" fill="#9a9a9a" stroke="#3a3a3a" stroke-width="0.8"/>
<circle cx="625.5" cy="167.4" r="3.3" fill="#9a9a9a" stroke="#3a3a3a" stroke-width="0.8"/>
<text x="433.20" y="28.20" font-size="5.6" text-anchor="start" fill="#1a1a1a" stroke="#1a1a1a" stroke-width="0.3" textLength="12.08" lengthAdjust="spacingAndGlyphs">1992</text>
<text x="440.50" y="37.80" font-size="5.6" text-anchor="start" fill="#1a1a1a" stroke="#1a1a1a" stroke-width="0.3" textLength="12.08" lengthAdjust="spacingAndGlyphs">2010</text>
<text x="459.20" y="63.20" font-size="5.6" text-anchor="start" fill="#1a1a1a" stroke="#1a1a1a" stroke-width="0.3" textLength="12.08" lengthAdjust="spacingAndGlyphs">2003</text>
<text x="460.60" y="83.70" font-size="5.6" text-anchor="start" fill="#1a1a1a" stroke="#1a1a1a" stroke-width="0.3" textLength="12.08" lengthAdjust="spacingAndGlyphs">1993</text>
<text x="491.60" y="90.10" font-size="5.6" text-anchor="start" fill="#1a1a1a" stroke="#1a1a1a" stroke-width="0.3" textLength="12.08" lengthAdjust="spacingAndGlyphs">2004</text>
<text x="510.00" y="88.30" font-size="5.6" text-anchor="start" fill="#1a1a1a" stroke="#1a1a1a" stroke-width="0.3" textLength="12.08" lengthAdjust="spacingAndGlyphs">1991</text>
<text x="504.30" y="100.80" font-size="5.6" text-anchor="start" fill="#1a1a1a" stroke="#1a1a1a" stroke-width="0.3" textLength="12.08" lengthAdjust="spacingAndGlyphs">2002</text>
<text x="557.70" y="13.60" font-size="5.6" text-anchor="start" fill="#1a1a1a" stroke="#1a1a1a" stroke-width="0.3" textLength="12.08" lengthAdjust="spacingAndGlyphs">1998</text>
<text x="535.00" y="61.20" font-size="5.6" text-anchor="start" fill="#1a1a1a" stroke="#1a1a1a" stroke-width="0.3" textLength="12.08" lengthAdjust="spacingAndGlyphs">1995</text>
<text x="544.60" y="78.20" font-size="5.6" text-anchor="start" fill="#1a1a1a" stroke="#1a1a1a" stroke-width="0.3" textLength="12.08" lengthAdjust="spacingAndGlyphs">2005</text>
<text x="525.50" y="84.90" font-size="5.6" text-anchor="start" fill="#1a1a1a" stroke="#1a1a1a" stroke-width="0.3" textLength="12.08" lengthAdjust="spacingAndGlyphs">2007</text>
<text x="544.30" y="89.80" font-size="5.6" text-anchor="start" fill="#1a1a1a" stroke="#1a1a1a" stroke-width="0.3" textLength="12.08" lengthAdjust="spacingAndGlyphs">1990</text>
<text x="592.50" y="92.90" font-size="5.6" text-anchor="start" fill="#1a1a1a" stroke="#1a1a1a" stroke-width="0.3" textLength="12.08" lengthAdjust="spacingAndGlyphs">1994</text>
<text x="453.70" y="128.30" font-size="5.6" text-anchor="start" fill="#1a1a1a" stroke="#1a1a1a" stroke-width="0.3" textLength="12.08" lengthAdjust="spacingAndGlyphs">2001</text>
<text x="500.10" y="132.80" font-size="5.6" text-anchor="start" fill="#1a1a1a" stroke="#1a1a1a" stroke-width="0.3" textLength="12.08" lengthAdjust="spacingAndGlyphs">2006</text>
<text x="494.50" y="136.40" font-size="5.6" text-anchor="start" fill="#1a1a1a" stroke="#1a1a1a" stroke-width="0.3" textLength="12.08" lengthAdjust="spacingAndGlyphs">1996</text>
<text x="503.90" y="155.20" font-size="5.6" text-anchor="start" fill="#1a1a1a" stroke="#1a1a1a" stroke-width="0.3" textLength="12.08" lengthAdjust="spacingAndGlyphs">2011</text>
<text x="521.80" y="160.00" font-size="5.6" text-anchor="start" fill="#1a1a1a" stroke="#1a1a1a" stroke-width="0.3" textLength="12.08" lengthAdjust="spacingAndGlyphs">1999</text>
<text x="523.80" y="126.10" font-size="5.6" text-anchor="start" fill="#1a1a1a" stroke="#1a1a1a" stroke-width="0.3" textLength="12.08" lengthAdjust="spacingAndGlyphs">2014</text>
<text x="534.30" y="131.30" font-size="5.6" text-anchor="start" fill="#1a1a1a" stroke="#1a1a1a" stroke-width="0.3" textLength="12.08" lengthAdjust="spacingAndGlyphs">2012</text>
<text x="563.90" y="131.00" font-size="5.6" text-anchor="start" fill="#1a1a1a" stroke="#1a1a1a" stroke-width="0.3" textLength="12.08" lengthAdjust="spacingAndGlyphs">2009</text>
<text x="584.80" y="115.30" font-size="5.6" text-anchor="start" fill="#1a1a1a" stroke="#1a1a1a" stroke-width="0.3" textLength="12.08" lengthAdjust="spacingAndGlyphs">1997</text>
<text x="613.90" y="124.70" font-size="5.6" text-anchor="start" fill="#1a1a1a" stroke="#1a1a1a" stroke-width="0.3" textLength="12.08" lengthAdjust="spacingAndGlyphs">2013</text>
<text x="581.10" y="166.20" font-size="5.6" text-anchor="start" fill="#1a1a1a" stroke="#1a1a1a" stroke-width="0.3" textLength="12.08" lengthAdjust="spacingAndGlyphs">2008</text>
<text x="630.30" y="169.40" font-size="5.6" text-anchor="start" fill="#1a1a1a" stroke="#1a1a1a" stroke-width="0.3" textLength="12.08" lengthAdjust="spacingAndGlyphs">2000</text>
<text x="361.90" y="236.00" font-size="11.7" text-anchor="start" fill="#000" stroke="#000" stroke-width="0.3" >(e)</text>
<text x="385.30" y="236.30" font-size="8.8" text-anchor="start" fill="#111" stroke="#111" stroke-width="0.3" >3−Month (JFM) mean SIC</text>
<text x="537.70" y="236.30" font-size="8.8" text-anchor="start" fill="#111" stroke="#111" stroke-width="0.3" >3−Month (JFM) mean SIC</text>
<line x1="437.60" y1="243.60" x2="437.60" y2="417.20" stroke="#222" stroke-width="1" />
<line x1="379.30" y1="417.20" x2="494.60" y2="417.20" stroke="#222" stroke-width="1" />
<line x1="435.20" y1="388.02" x2="440.00" y2="388.02" stroke="#222" stroke-width="1" />
<text x="434.00" y="390.12" font-size="5.9" text-anchor="end" fill="#111" stroke="#111" stroke-width="0.3" textLength="6.04" lengthAdjust="spacingAndGlyphs">10</text>
<line x1="435.20" y1="359.13" x2="440.00" y2="359.13" stroke="#222" stroke-width="1" />
<text x="434.00" y="361.23" font-size="5.9" text-anchor="end" fill="#111" stroke="#111" stroke-width="0.3" textLength="6.04" lengthAdjust="spacingAndGlyphs">20</text>
<line x1="435.20" y1="330.25" x2="440.00" y2="330.25" stroke="#222" stroke-width="1" />
<text x="434.00" y="332.35" font-size="5.9" text-anchor="end" fill="#111" stroke="#111" stroke-width="0.3" textLength="6.04" lengthAdjust="spacingAndGlyphs">30</text>
<line x1="435.20" y1="301.37" x2="440.00" y2="301.37" stroke="#222" stroke-width="1" />
<text x="434.00" y="303.47" font-size="5.9" text-anchor="end" fill="#111" stroke="#111" stroke-width="0.3" textLength="6.04" lengthAdjust="spacingAndGlyphs">40</text>
<line x1="435.20" y1="272.48" x2="440.00" y2="272.48" stroke="#222" stroke-width="1" />
<text x="434.00" y="274.58" font-size="5.9" text-anchor="end" fill="#111" stroke="#111" stroke-width="0.3" textLength="6.04" lengthAdjust="spacingAndGlyphs">50</text>
<line x1="435.20" y1="243.60" x2="440.00" y2="243.60" stroke="#222" stroke-width="1" />
<text x="434.00" y="245.70" font-size="5.9" text-anchor="end" fill="#111" stroke="#111" stroke-width="0.3" textLength="6.04" lengthAdjust="spacingAndGlyphs">60</text>
<line x1="379.30" y1="417.20" x2="379.30" y2="414.60" stroke="#222" stroke-width="1" />
<text x="377.50" y="423.00" font-size="6.1" text-anchor="middle" fill="#111" stroke="#111" stroke-width="0.3" textLength="6.40" lengthAdjust="spacingAndGlyphs">−2</text>
<line x1="408.12" y1="417.20" x2="408.12" y2="414.60" stroke="#222" stroke-width="1" />
<text x="406.32" y="423.00" font-size="6.1" text-anchor="middle" fill="#111" stroke="#111" stroke-width="0.3" textLength="6.40" lengthAdjust="spacingAndGlyphs">−1</text>
<line x1="436.95" y1="417.20" x2="436.95" y2="414.60" stroke="#222" stroke-width="1" />
<text x="436.65" y="423.00" font-size="6.1" text-anchor="middle" fill="#111" stroke="#111" stroke-width="0.3" textLength="3.12" lengthAdjust="spacingAndGlyphs">0</text>
<line x1="465.78" y1="417.20" x2="465.78" y2="414.60" stroke="#222" stroke-width="1" />
<text x="465.78" y="423.00" font-size="6.1" text-anchor="middle" fill="#111" stroke="#111" stroke-width="0.3" textLength="3.12" lengthAdjust="spacingAndGlyphs">1</text>
<line x1="494.60" y1="417.20" x2="494.60" y2="414.60" stroke="#222" stroke-width="1" />
<text x="494.60" y="423.00" font-size="6.1" text-anchor="middle" fill="#111" stroke="#111" stroke-width="0.3" textLength="3.12" lengthAdjust="spacingAndGlyphs">2</text>
<text x="435.40" y="434.60" font-size="8.8" text-anchor="middle" fill="#111" stroke="#111" stroke-width="0.3" >3−Month (JFM) mean ONI</text>
<line x1="574.20" y1="243.60" x2="574.20" y2="417.20" stroke="#222" stroke-width="1" />
<line x1="531.00" y1="417.20" x2="645.80" y2="417.20" stroke="#222" stroke-width="1" />
<line x1="571.80" y1="388.02" x2="576.60" y2="388.02" stroke="#222" stroke-width="1" />
<text x="570.60" y="390.12" font-size="5.9" text-anchor="end" fill="#111" stroke="#111" stroke-width="0.3" textLength="6.04" lengthAdjust="spacingAndGlyphs">10</text>
<line x1="571.80" y1="359.13" x2="576.60" y2="359.13" stroke="#222" stroke-width="1" />
<text x="570.60" y="361.23" font-size="5.9" text-anchor="end" fill="#111" stroke="#111" stroke-width="0.3" textLength="6.04" lengthAdjust="spacingAndGlyphs">20</text>
<line x1="571.80" y1="330.25" x2="576.60" y2="330.25" stroke="#222" stroke-width="1" />
<text x="570.60" y="332.35" font-size="5.9" text-anchor="end" fill="#111" stroke="#111" stroke-width="0.3" textLength="6.04" lengthAdjust="spacingAndGlyphs">30</text>
<line x1="571.80" y1="301.37" x2="576.60" y2="301.37" stroke="#222" stroke-width="1" />
<text x="570.60" y="303.47" font-size="5.9" text-anchor="end" fill="#111" stroke="#111" stroke-width="0.3" textLength="6.04" lengthAdjust="spacingAndGlyphs">40</text>
<line x1="571.80" y1="272.48" x2="576.60" y2="272.48" stroke="#222" stroke-width="1" />
<text x="570.60" y="274.58" font-size="5.9" text-anchor="end" fill="#111" stroke="#111" stroke-width="0.3" textLength="6.04" lengthAdjust="spacingAndGlyphs">50</text>
<line x1="571.80" y1="243.60" x2="576.60" y2="243.60" stroke="#222" stroke-width="1" />
<text x="570.60" y="245.70" font-size="5.9" text-anchor="end" fill="#111" stroke="#111" stroke-width="0.3" textLength="6.04" lengthAdjust="spacingAndGlyphs">60</text>
<line x1="545.35" y1="417.20" x2="545.35" y2="414.60" stroke="#222" stroke-width="1" />
<text x="543.55" y="423.00" font-size="6.1" text-anchor="middle" fill="#111" stroke="#111" stroke-width="0.3" textLength="6.40" lengthAdjust="spacingAndGlyphs">−1</text>
<line x1="574.05" y1="417.20" x2="574.05" y2="414.60" stroke="#222" stroke-width="1" />
<text x="573.75" y="423.00" font-size="6.1" text-anchor="middle" fill="#111" stroke="#111" stroke-width="0.3" textLength="3.12" lengthAdjust="spacingAndGlyphs">0</text>
<line x1="602.75" y1="417.20" x2="602.75" y2="414.60" stroke="#222" stroke-width="1" />
<text x="602.75" y="423.00" font-size="6.1" text-anchor="middle" fill="#111" stroke="#111" stroke-width="0.3" textLength="3.12" lengthAdjust="spacingAndGlyphs">1</text>
<line x1="631.45" y1="417.20" x2="631.45" y2="414.60" stroke="#222" stroke-width="1" />
<text x="631.45" y="423.00" font-size="6.1" text-anchor="middle" fill="#111" stroke="#111" stroke-width="0.3" textLength="3.12" lengthAdjust="spacingAndGlyphs">2</text>
<text x="587.80" y="434.60" font-size="8.8" text-anchor="middle" fill="#111" stroke="#111" stroke-width="0.3" >3−Month (JFM) mean SAM</text>
<line x1="395.20" y1="297.70" x2="480.40" y2="389.00" stroke="#000" stroke-width="1.2" />
<line x1="546.90" y1="365.30" x2="637.60" y2="286.50" stroke="#000" stroke-width="1.2" />
<text x="441.8" y="345.1" font-size="7.3" fill="#111" stroke="#111" stroke-width="0.3"><tspan font-style="italic">r</tspan>=-0.7 (<tspan font-style="italic">p</tspan>&lt;0.01)</text>
<text x="614.4" y="283.8" font-size="7.3" fill="#111" stroke="#111" stroke-width="0.3"><tspan font-style="italic">r</tspan>=0.5 (<tspan font-style="italic">p</tspan>&lt;0.05)</text>
<ellipse cx="421.8" cy="268.10" rx="3.0" ry="2.6" fill="#f00000" stroke="#800000" stroke-width="0.7"/>
<ellipse cx="417.9" cy="273.80" rx="3.0" ry="2.6" fill="#f00000" stroke="#800000" stroke-width="0.7"/>
<ellipse cx="417.1" cy="293.80" rx="3.0" ry="2.6" fill="#0000e0" stroke="#000070" stroke-width="0.7"/>
<ellipse cx="403.8" cy="298.00" rx="3.0" ry="2.6" fill="#f00000" stroke="#800000" stroke-width="0.7"/>
<ellipse cx="415.2" cy="307.30" rx="3.0" ry="2.6" fill="#0000e0" stroke="#000070" stroke-width="0.7"/>
<ellipse cx="401.1" cy="321.70" rx="3.0" ry="2.6" fill="#0000e0" stroke="#000070" stroke-width="0.7"/>
<ellipse cx="396.5" cy="322.70" rx="3.0" ry="2.6" fill="#0000e0" stroke="#000070" stroke-width="0.7"/>
<ellipse cx="394.9" cy="330.00" rx="3.0" ry="2.6" fill="#0000e0" stroke="#000070" stroke-width="0.7"/>
<ellipse cx="418.1" cy="339.40" rx="3.0" ry="2.6" fill="#0000e0" stroke="#000070" stroke-width="0.7"/>
<ellipse cx="421.1" cy="365.50" rx="3.0" ry="2.6" fill="#0000e0" stroke="#000070" stroke-width="0.7"/>
<ellipse cx="474.7" cy="374.80" rx="3.0" ry="2.6" fill="#f00000" stroke="#800000" stroke-width="0.7"/>
<ellipse cx="459.2" cy="383.90" rx="3.0" ry="2.6" fill="#0000e0" stroke="#000070" stroke-width="0.7"/>
<ellipse cx="479.9" cy="408.90" rx="3.0" ry="2.6" fill="#0000e0" stroke="#000070" stroke-width="0.7"/>
<text x="414.80" y="269.40" font-size="5.6" text-anchor="end" fill="#1a1a1a" stroke="#1a1a1a" stroke-width="0.3" textLength="11.83" lengthAdjust="spacingAndGlyphs">2013</text>
<text x="412.80" y="276.00" font-size="5.6" text-anchor="end" fill="#1a1a1a" stroke="#1a1a1a" stroke-width="0.3" textLength="11.83" lengthAdjust="spacingAndGlyphs">2012</text>
<text x="414.70" y="290.80" font-size="5.6" text-anchor="end" fill="#1a1a1a" stroke="#1a1a1a" stroke-width="0.3" textLength="11.83" lengthAdjust="spacingAndGlyphs">2006</text>
<text x="400.50" y="295.10" font-size="5.6" text-anchor="end" fill="#1a1a1a" stroke="#1a1a1a" stroke-width="0.3" textLength="11.83" lengthAdjust="spacingAndGlyphs">2011</text>
<text x="414.40" y="314.20" font-size="5.6" text-anchor="start" fill="#1a1a1a" stroke="#1a1a1a" stroke-width="0.3" textLength="11.83" lengthAdjust="spacingAndGlyphs">1996</text>
<text x="395.20" y="317.40" font-size="5.6" text-anchor="start" fill="#1a1a1a" stroke="#1a1a1a" stroke-width="0.3" textLength="11.83" lengthAdjust="spacingAndGlyphs">1999</text>
<text x="392.70" y="324.30" font-size="5.6" text-anchor="end" fill="#1a1a1a" stroke="#1a1a1a" stroke-width="0.3" textLength="11.83" lengthAdjust="spacingAndGlyphs">2008</text>
<text x="390.00" y="332.10" font-size="5.6" text-anchor="end" fill="#1a1a1a" stroke="#1a1a1a" stroke-width="0.3" textLength="11.83" lengthAdjust="spacingAndGlyphs">2000</text>
<text x="413.40" y="341.60" font-size="5.6" text-anchor="end" fill="#1a1a1a" stroke="#1a1a1a" stroke-width="0.3" textLength="11.83" lengthAdjust="spacingAndGlyphs">2009</text>
<text x="416.20" y="367.30" font-size="5.6" text-anchor="end" fill="#1a1a1a" stroke="#1a1a1a" stroke-width="0.3" textLength="11.83" lengthAdjust="spacingAndGlyphs">2014</text>
<text x="479.00" y="376.40" font-size="5.6" text-anchor="start" fill="#1a1a1a" stroke="#1a1a1a" stroke-width="0.3" textLength="11.83" lengthAdjust="spacingAndGlyphs">2010</text>
<text x="460.30" y="390.80" font-size="5.6" text-anchor="start" fill="#1a1a1a" stroke="#1a1a1a" stroke-width="0.3" textLength="11.83" lengthAdjust="spacingAndGlyphs">2003</text>
<text x="483.60" y="410.60" font-size="5.6" text-anchor="start" fill="#1a1a1a" stroke="#1a1a1a" stroke-width="0.3" textLength="11.83" lengthAdjust="spacingAndGlyphs">1992</text>
<ellipse cx="629.9" cy="268.20" rx="3.0" ry="2.6" fill="#f00000" stroke="#800000" stroke-width="0.7"/>
<ellipse cx="593.3" cy="273.70" rx="3.0" ry="2.6" fill="#f00000" stroke="#800000" stroke-width="0.7"/>
<ellipse cx="577.1" cy="294.00" rx="3.0" ry="2.6" fill="#0000e0" stroke="#000070" stroke-width="0.7"/>
<ellipse cx="579.2" cy="297.90" rx="3.0" ry="2.6" fill="#f00000" stroke="#800000" stroke-width="0.7"/>
<ellipse cx="575.2" cy="307.30" rx="3.0" ry="2.6" fill="#0000e0" stroke="#000070" stroke-width="0.7"/>
<ellipse cx="587.5" cy="321.90" rx="3.0" ry="2.6" fill="#0000e0" stroke="#000070" stroke-width="0.7"/>
<ellipse cx="614.9" cy="322.60" rx="3.0" ry="2.6" fill="#0000e0" stroke="#000070" stroke-width="0.7"/>
<ellipse cx="637.7" cy="330.00" rx="3.0" ry="2.6" fill="#0000e0" stroke="#000070" stroke-width="0.7"/>
<ellipse cx="607.1" cy="339.40" rx="3.0" ry="2.6" fill="#0000e0" stroke="#000070" stroke-width="0.7"/>
<ellipse cx="589.3" cy="365.40" rx="3.0" ry="2.6" fill="#0000e0" stroke="#000070" stroke-width="0.7"/>
<ellipse cx="550.6" cy="374.60" rx="3.0" ry="2.6" fill="#f00000" stroke="#800000" stroke-width="0.7"/>
<ellipse cx="558.9" cy="383.80" rx="3.0" ry="2.6" fill="#0000e0" stroke="#000070" stroke-width="0.7"/>
<ellipse cx="546.7" cy="408.90" rx="3.0" ry="2.6" fill="#0000e0" stroke="#000070" stroke-width="0.7"/>
<text x="634.80" y="269.60" font-size="5.6" text-anchor="start" fill="#1a1a1a" stroke="#1a1a1a" stroke-width="0.3" textLength="11.83" lengthAdjust="spacingAndGlyphs">2013</text>
<text x="597.90" y="275.40" font-size="5.6" text-anchor="start" fill="#1a1a1a" stroke="#1a1a1a" stroke-width="0.3" textLength="11.83" lengthAdjust="spacingAndGlyphs">2012</text>
<text x="581.90" y="292.40" font-size="5.6" text-anchor="start" fill="#1a1a1a" stroke="#1a1a1a" stroke-width="0.3" textLength="11.83" lengthAdjust="spacingAndGlyphs">2006</text>
<text x="584.10" y="299.30" font-size="5.6" text-anchor="start" fill="#1a1a1a" stroke="#1a1a1a" stroke-width="0.3" textLength="11.83" lengthAdjust="spacingAndGlyphs">2011</text>
<text x="579.20" y="309.10" font-size="5.6" text-anchor="start" fill="#1a1a1a" stroke="#1a1a1a" stroke-width="0.3" textLength="11.83" lengthAdjust="spacingAndGlyphs">1996</text>
<text x="587.10" y="318.40" font-size="5.6" text-anchor="start" fill="#1a1a1a" stroke="#1a1a1a" stroke-width="0.3" textLength="11.83" lengthAdjust="spacingAndGlyphs">1999</text>
<text x="619.00" y="324.10" font-size="5.6" text-anchor="start" fill="#1a1a1a" stroke="#1a1a1a" stroke-width="0.3" textLength="11.83" lengthAdjust="spacingAndGlyphs">2008</text>
<text x="642.00" y="331.80" font-size="5.6" text-anchor="start" fill="#1a1a1a" stroke="#1a1a1a" stroke-width="0.3" textLength="11.83" lengthAdjust="spacingAndGlyphs">2000</text>
<text x="611.60" y="341.30" font-size="5.6" text-anchor="start" fill="#1a1a1a" stroke="#1a1a1a" stroke-width="0.3" textLength="11.83" lengthAdjust="spacingAndGlyphs">2009</text>
<text x="594.00" y="367.10" font-size="5.6" text-anchor="start" fill="#1a1a1a" stroke="#1a1a1a" stroke-width="0.3" textLength="11.83" lengthAdjust="spacingAndGlyphs">2014</text>
<text x="545.90" y="376.10" font-size="5.6" text-anchor="end" fill="#1a1a1a" stroke="#1a1a1a" stroke-width="0.3" textLength="11.83" lengthAdjust="spacingAndGlyphs">2010</text>
<text x="554.40" y="385.60" font-size="5.6" text-anchor="end" fill="#1a1a1a" stroke="#1a1a1a" stroke-width="0.3" textLength="11.83" lengthAdjust="spacingAndGlyphs">2003</text>
<text x="542.30" y="414.00" font-size="5.6" text-anchor="end" fill="#1a1a1a" stroke="#1a1a1a" stroke-width="0.3" textLength="11.83" lengthAdjust="spacingAndGlyphs">1992</text>
</svg></body></html>
